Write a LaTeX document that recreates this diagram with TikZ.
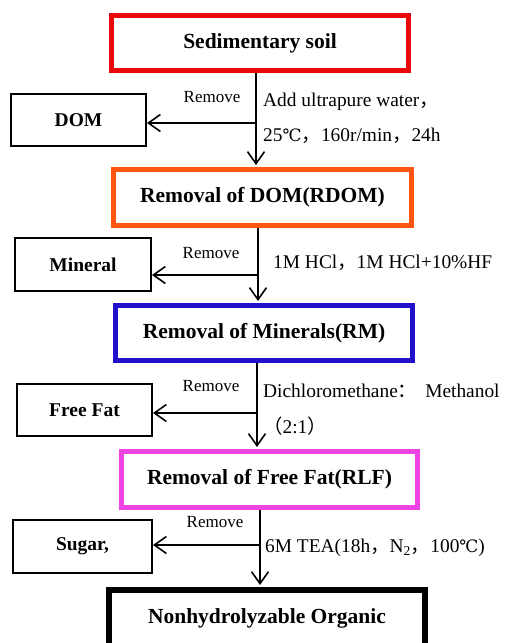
\documentclass[tikz,border=0pt]{standalone}
\usepackage{fontspec}
\setmainfont{Liberation Serif}
\newfontfamily\cjk{Noto Sans CJK SC}
\newfontfamily\degfont{DejaVu Serif}
\usetikzlibrary{arrows.meta}
\definecolor{soilred}{HTML}{E8080E}
\definecolor{domorange}{HTML}{FF5511}
\definecolor{rmblue}{HTML}{2211CC}
\definecolor{rlfpink}{HTML}{EE44E6}
\newcommand{\degC}{{\degfont\fontsize{17}{20}\selectfont ℃}}

\begin{document}
\begin{tikzpicture}[x=1pt,y=-1pt,
  stage/.style={draw,line width=5pt,minimum width=297pt,minimum height=55pt,inner sep=0pt,
    font=\bfseries\fontsize{21.5}{24}\selectfont},
  waste/.style={draw,line width=2pt,minimum height=52pt,inner sep=0pt,
    font=\bfseries\fontsize{19.5}{22}\selectfont},
  flow/.style={line width=1.6pt,shorten >=2pt,-{Straight Barb[length=12pt,width=17pt]}},
  cond/.style={anchor=west,inner sep=0pt,font=\fontsize{19.4}{22}\selectfont},
  rmtext/.style={inner sep=0pt,font=\fontsize{17}{20}\selectfont}]
\useasboundingbox (0,0) rectangle (504,643);
\clip (0,0) rectangle (504,643);

% main stages
\node[stage,draw=soilred] (soil) at (260,43) {Sedimentary soil};
\node[stage,draw=domorange,minimum width=298pt,minimum height=56pt] (rdom) at (262.5,197.5) {Removal of DOM(RDOM)};
\node[stage,draw=rmblue] (rmin) at (264,333) {Removal of Minerals(RM)};
\node[stage,draw=rlfpink,minimum width=296pt,minimum height=56pt] (rlf) at (269.5,479.5) {Removal of Free Fat(RLF)};
\node[stage,draw=black,line width=6pt,minimum width=316pt,minimum height=56pt] (nho) at (267,618) {Nonhydrolyzable Organic};

% removed fractions
\node[waste,minimum width=135pt] (dom) at (78.5,120) {DOM};
\node[waste,minimum width=136pt,minimum height=53pt] (mineral) at (83,264.5) {Mineral};
\node[waste,minimum width=135pt] (fat) at (84.5,410) {Free Fat};
\node[waste,minimum width=139pt,minimum height=53pt] (sugar) at (82.5,546.5) {Sugar,};

% vertical flow
\coordinate (v1) at (256,0);
\coordinate (v2) at (258,0);
\coordinate (v3) at (257,0);
\coordinate (v4) at (260,0);
\draw[flow] (v1 |- soil.south) -- (v1 |- rdom.north);
\draw[flow] (v2 |- rdom.south) -- (v2 |- rmin.north);
\draw[flow] (v3 |- rmin.south) -- (v3 |- rlf.north);
\draw[flow] (v4 |- rlf.south) -- (v4 |- nho.north);

% side branches
\coordinate (b1) at (256,123);
\coordinate (b2) at (258,275);
\coordinate (b3) at (257,413);
\coordinate (b4) at (260,545);
\draw[flow,shorten >=0pt] (b1) -- (b1 -| dom.east);
\draw[flow,shorten >=0pt] (b2) -- (b2 -| mineral.east);
\draw[flow,shorten >=0pt] (b3) -- (b3 -| fat.east);
\draw[flow,shorten >=0pt] (b4) -- (b4 -| sugar.east);

\node[rmtext] (rm1) at (212,97) {Remove};
\node[rmtext] (rm2) at (211,253) {Remove};
\node[rmtext] (rm3) at (211,386) {Remove};
\node[rmtext] (rm4) at (215,522) {Remove};

% conditions
\node[cond] (c1a) at (263,102) {Add ultrapure water{\cjk ，}};
\node[cond] (c1b) at (263,136) {25\degC{\cjk ，}160r/min{\cjk ，}24h};
\node[cond] (c2) at (273,263) {1M HCl{\cjk ，}1M HCl+10\%HF};
\node[cond] (c3a) at (263,391) {Dichloromethane{\cjk ：}\hspace{8pt}Methanol};
\node[cond] (c3b) at (263,426) {{\cjk （}2:1{\cjk ）}};
\node[cond] (c4) at (265,548) {6M TEA(18h{\cjk ，}N\textsubscript{2}{\cjk ，}100\degC)};
\end{tikzpicture}
\end{document}
